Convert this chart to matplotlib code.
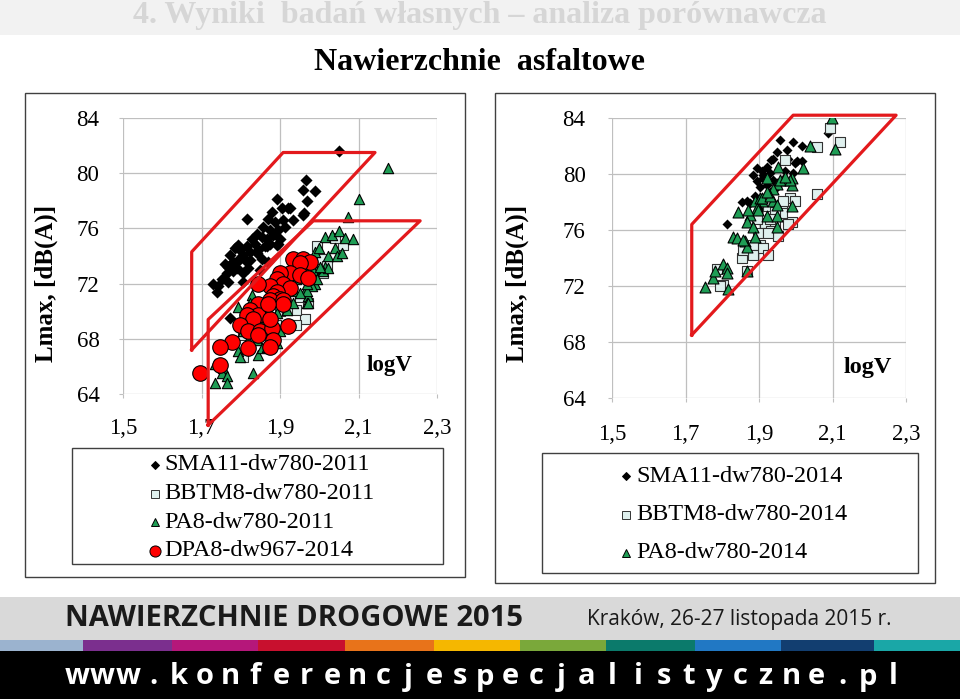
import matplotlib
matplotlib.use("Agg")
import matplotlib.pyplot as plt
import numpy as np
from matplotlib.patches import Rectangle
from matplotlib.lines import Line2D

W, H = 960, 699

# ---- data ----
x_ticks = [1.5, 1.7, 1.9, 2.1, 2.3]
x_tick_labels = ["1,5", "1,7", "1,9", "2,1", "2,3"]
y_ticks = [64, 68, 72, 76, 80, 84]

left_labels = ["SMA11-dw780-2011", "BBTM8-dw780-2011", "PA8-dw780-2011", "DPA8-dw967-2014"]
right_labels = ["SMA11-dw780-2014", "BBTM8-dw780-2014", "PA8-dw780-2014"]

# left chart (2011 / 2014 DPA)
sma11_x = [2.050, 1.966, 1.959, 1.989, 1.893, 1.815, 1.904, 1.921, 1.959, 1.879, 1.870, 1.887,
           1.908, 1.934, 1.857, 1.875, 1.896, 1.913, 1.841, 1.853, 1.866, 1.883, 1.900, 1.828,
           1.815, 1.836, 1.798, 1.807, 1.785, 1.824, 1.845, 1.862, 1.875, 1.896, 1.781, 1.768,
           1.794, 1.815, 1.853, 1.870, 1.794, 1.773, 1.798, 1.824, 1.760, 1.777, 1.790, 1.764,
           1.781, 1.807, 1.819, 1.751, 1.730, 1.743, 1.768, 1.807, 1.739, 1.773, 1.892, 1.866,
           1.841, 1.961, 1.925, 1.849, 1.968]
sma11_y = [81.6, 79.5, 78.8, 78.7, 78.1, 76.7, 77.5, 77.5, 77.0, 77.2, 76.7, 76.5,
           76.6, 76.6, 76.1, 75.9, 75.9, 76.1, 75.6, 75.4, 75.2, 75.5, 75.2, 75.2,
           74.7, 74.9, 74.4, 74.1, 74.6, 74.3, 74.4, 74.7, 74.9, 74.9, 73.6, 73.2,
           73.7, 73.6, 73.8, 73.6, 74.8, 74.1, 73.8, 73.7, 73.4, 73.5, 73.1, 72.8,
           72.9, 72.8, 73.1, 72.3, 72.0, 71.8, 72.1, 72.1, 71.4, 69.5, 74.8, 74.7,
           74.2, 77.1, 77.5, 73.0, 78.0]

bbtm11_x = [1.993, 2.006, 2.061, 2.010, 1.972, 1.964, 1.942, 1.942, 1.900, 1.807, 1.806,
            1.917, 1.880, 1.860, 2.040, 1.980, 2.020, 1.950, 1.890]
bbtm11_y = [74.7, 73.8, 74.8, 72.8, 70.6, 69.4, 69.0, 70.1, 70.0, 68.3, 66.7,
            70.1, 68.0, 69.2, 75.3, 72.0, 73.3, 71.0, 69.0]

pa11_x = [2.176, 2.101, 2.072, 2.015, 2.032, 2.051, 2.066, 2.087, 2.040, 2.023, 2.044, 2.057,
          2.015, 2.010, 2.023, 1.989, 1.968, 1.989, 1.981, 1.964, 1.972, 1.968, 1.828, 1.824,
          1.794, 1.857, 1.841, 1.819, 1.794, 1.798, 1.845, 1.734, 1.756, 1.751, 1.764, 1.734,
          1.764, 1.832, 1.853, 1.866, 1.892, 1.917, 1.934, 1.968, 1.972, 1.951, 1.892, 1.917,
          1.942, 1.985, 2.002, 1.993, 1.968, 1.934, 1.866, 1.883, 1.900, 1.807, 1.880, 1.900,
          1.920, 1.950, 1.960, 1.930, 1.990, 2.000]
pa11_y = [80.4, 78.1, 76.8, 75.4, 75.5, 75.8, 75.3, 75.2, 74.6, 74.0, 74.0, 74.2,
          73.2, 72.9, 73.1, 73.1, 72.5, 72.0, 71.8, 71.5, 71.1, 70.6, 71.2, 70.6,
          70.3, 69.0, 67.9, 67.9, 67.1, 66.7, 66.8, 66.2, 65.9, 65.5, 65.3, 64.8,
          64.8, 65.5, 67.3, 67.4, 67.7, 70.1, 71.5, 71.5, 70.6, 71.3, 69.9, 72.3,
          72.3, 73.0, 73.2, 72.3, 72.0, 70.6, 70.3, 68.4, 68.6, 68.6, 71.0, 70.8,
          71.8, 72.6, 73.2, 73.5, 74.3, 74.6]

dpa14_x = [1.934, 1.959, 1.976, 1.951, 1.925, 1.951, 1.972, 1.900, 1.892, 1.908, 1.875, 1.925,
           1.892, 1.883, 1.900, 1.875, 1.908, 1.845, 1.845, 1.824, 1.845, 1.815, 1.832, 1.798,
           1.819, 1.849, 1.879, 1.875, 1.883, 1.875, 1.845, 1.819, 1.777, 1.747, 1.747, 1.696,
           1.921, 1.908, 1.870]
dpa14_y = [73.8, 73.8, 73.6, 73.5, 72.8, 72.6, 72.4, 72.8, 72.3, 72.0, 71.8, 71.7,
           71.4, 71.1, 70.9, 70.8, 70.8, 72.0, 70.5, 70.1, 69.7, 69.7, 69.4, 69.0,
           68.6, 68.6, 68.8, 69.4, 67.9, 67.4, 68.3, 67.3, 67.8, 67.4, 66.1, 65.5,
           68.9, 70.5, 70.5]

# right chart (2014)
sma14_x = [1.957, 1.993, 2.016, 1.975, 1.948, 1.939, 1.980, 2.003, 1.894, 1.907, 1.921, 1.930,
           1.912, 1.939, 1.894, 1.921, 1.948, 1.884, 1.903, 1.867, 1.876, 1.853, 1.889, 1.930,
           1.903, 1.812, 1.916, 2.089, 1.998, 2.016, 1.993, 1.971, 1.934, 1.910, 1.925]
sma14_y = [82.4, 82.3, 82.0, 81.7, 81.6, 81.1, 81.1, 80.9, 80.4, 80.2, 80.5, 80.1,
           79.7, 79.6, 79.5, 79.2, 79.1, 79.9, 79.1, 78.1, 77.9, 78.0, 78.4, 78.7,
           77.4, 76.4, 77.8, 82.9, 80.8, 80.9, 80.1, 80.2, 81.0, 79.9, 79.4]

bbtm14_x = [2.093, 2.120, 2.057, 1.971, 2.057, 1.984, 1.998, 1.962, 1.962, 1.989, 1.980, 1.944,
            1.916, 1.934, 1.953, 1.925, 1.944, 1.894, 1.903, 1.912, 1.884, 1.862, 1.853, 1.884,
            1.925, 1.857, 1.785, 1.803, 1.794, 1.867, 1.898, 1.925, 1.930, 1.966]
bbtm14_y = [83.3, 82.3, 81.9, 81.0, 78.6, 78.3, 78.1, 77.6, 77.2, 76.6, 76.4, 76.5,
            76.5, 75.9, 75.6, 77.7, 77.3, 76.8, 74.9, 74.7, 74.9, 74.5, 74.0, 74.2,
            74.2, 74.6, 73.2, 72.1, 72.0, 73.1, 75.8, 75.8, 76.8, 78.1]

pa14_x = [2.098, 2.039, 2.107, 2.021, 1.953, 1.989, 1.966, 1.948, 1.989, 1.989, 1.939, 1.939,
          1.907, 1.889, 1.894, 1.876, 1.844, 1.867, 1.885, 1.830, 1.839, 1.862, 1.867, 1.889,
          1.948, 1.948, 1.803, 1.812, 1.812, 1.776, 1.753, 1.817, 1.867, 1.921, 1.903, 1.921,
          1.871, 1.898, 1.907, 1.930, 1.948, 1.957, 1.984, 1.971, 1.921, 1.857, 1.780]
pa14_y = [84.0, 82.0, 81.8, 80.4, 80.5, 79.7, 79.6, 79.3, 79.2, 77.7, 78.9, 78.1,
          78.1, 78.1, 77.6, 77.1, 77.3, 76.6, 76.2, 75.5, 75.4, 75.2, 74.8, 75.5,
          77.0, 76.2, 73.6, 73.3, 72.9, 72.6, 71.9, 71.8, 73.1, 79.7, 78.3, 77.0,
          77.4, 77.4, 78.3, 78.4, 77.8, 79.6, 79.6, 79.8, 78.7, 75.3, 73.1]

# envelope polygons (logV, Lmax)
left_poly1 = [(1.675, 67.2), (1.675, 74.3), (1.908, 81.5), (2.142, 81.5)]
left_poly2 = [(1.717, 61.75), (1.717, 69.4), (1.985, 76.55), (2.257, 76.55)]
right_poly = [(1.717, 68.5), (1.717, 76.4), (1.993, 84.2), (2.273, 84.2)]

# ---- styles ----
serif = "Liberation Serif"
red = "#e3191c"
green = "#1f9d55"
mint = "#dff0ee"


def fx(x):
    return x / W


def fy(y):
    return 1 - y / H


def rect(x0, y0, x1, y1, **kw):
    fig.add_artist(Rectangle((fx(x0), fy(y1)), fx(x1) - fx(x0), fy(y0) - fy(y1),
                             transform=fig.transFigure, **kw))


fig = plt.figure(figsize=(W / 100, H / 100), dpi=100)

# header band
rect(0, 0, W, 35, facecolor="#f2f2f2", edgecolor="none")
fig.text(0.5, fy(15), "4. Wyniki  badań własnych – analiza porównawcza", ha="center", va="center",
         fontsize=23, fontweight="bold", family=serif, color="#d6d6d6")
fig.text(0.5, fy(63), "Nawierzchnie  asfaltowe", ha="center", va="center",
         fontsize=23, fontweight="bold", family=serif, color="black")

# chart frames
rect(25, 93, 465, 577, facecolor="none", edgecolor="#404040", lw=1)
rect(495, 93, 935, 583, facecolor="none", edgecolor="#404040", lw=1)


def setup(ax, pad_y):
    ax.set_xlim(1.5, 2.3)
    ax.set_ylim(64, 84)
    ax.set_xticks(x_ticks)
    ax.set_xticklabels(x_tick_labels)
    ax.set_yticks(y_ticks)
    ax.grid(True, color="#bfbfbf", lw=0.9)
    ax.set_axisbelow(True)
    for s in ax.spines.values():
        s.set_visible(False)
    ax.tick_params(length=3, color="#bfbfbf", labelsize=16.5, pad=pad_y)
    for t in ax.get_xticklabels() + ax.get_yticklabels():
        t.set_family(serif)


axL = fig.add_axes([fx(123), fy(394), fx(437) - fx(123), fy(118) - fy(394)])
setup(axL, 14)
axL.scatter(sma11_x, sma11_y, marker="D", s=38, c="black", lw=0, zorder=3)
axL.scatter(bbtm11_x, bbtm11_y, marker="s", s=42, c=mint, edgecolors="#333333", lw=0.8, zorder=3)
axL.scatter(pa11_x, pa11_y, marker="^", s=55, c=green, edgecolors="black", lw=0.8, zorder=4)
axL.scatter(dpa14_x, dpa14_y, marker="o", s=125, c="#ff0000", edgecolors="black", lw=0.8, zorder=5)
for poly in (left_poly1, left_poly2):
    px, py = zip(*(poly + [poly[0]]))
    axL.plot(px, py, color=red, lw=2.3, zorder=6, clip_on=False)
axL.text(2.18, 66.1, "logV", ha="center", va="center", fontsize=16.5, fontweight="bold", family=serif)
fig.text(fx(46), fy(283), "Lmax, [dB(A)]", rotation=90, ha="center", va="center",
         fontsize=18, fontweight="bold", family=serif)

axR = fig.add_axes([fx(612), fy(398), fx(906) - fx(612), fy(118) - fy(398)])
setup(axR, 16)
axR.scatter(sma14_x, sma14_y, marker="D", s=26, c="black", lw=0, zorder=3)
axR.scatter(bbtm14_x, bbtm14_y, marker="s", s=50, c=mint, edgecolors="#333333", lw=0.8, zorder=4)
axR.scatter(pa14_x, pa14_y, marker="^", s=62, c=green, edgecolors="black", lw=0.8, zorder=5)
px, py = zip(*(right_poly + [right_poly[0]]))
axR.plot(px, py, color=red, lw=2.3, zorder=6, clip_on=False)
axR.text(2.197, 66.2, "logV", ha="center", va="center", fontsize=17.5, fontweight="bold", family=serif)
fig.text(fx(517), fy(283), "Lmax, [dB(A)]", rotation=90, ha="center", va="center",
         fontsize=18, fontweight="bold", family=serif)

# legends
left_styles = [dict(marker="D", ms=4.5, mfc="black", mec="black"),
               dict(marker="s", ms=5.5, mfc=mint, mec="#333333"),
               dict(marker="^", ms=6, mfc=green, mec="black"),
               dict(marker="o", ms=8, mfc="#ff0000", mec="black")]
rect(72, 448, 443, 564, facecolor="none", edgecolor="#404040", lw=1)
for i, (lab, st) in enumerate(zip(left_labels, left_styles)):
    yy = 465 + i * 28.5
    fig.add_artist(Line2D([fx(155)], [fy(yy)], transform=fig.transFigure, lw=0, mew=0.7, **st))
    fig.text(fx(164), fy(yy), lab, ha="left", va="center", fontsize=17.5, family=serif)

rect(542, 453, 918, 573, facecolor="none", edgecolor="#404040", lw=1)
for i, (lab, st) in enumerate(zip(right_labels, left_styles[:3])):
    yy = 476 + i * 38.5
    fig.add_artist(Line2D([fx(626)], [fy(yy)], transform=fig.transFigure, lw=0, mew=0.7, **st))
    fig.text(fx(636), fy(yy), lab, ha="left", va="center", fontsize=17.5, family=serif)

# footer
rect(0, 597, W, 640, facecolor="#d9d9d9", edgecolor="none")
strip_colors = ["#9bb3cf", "#7b2f8e", "#b5177a", "#c8102e", "#e8731a", "#f5b700",
                "#7aa83a", "#0b7a6b", "#2178c4", "#123e70", "#1aa7a7"]
strip_edges = [0, 83, 172, 258, 345, 434, 520, 606, 695, 781, 874, 960]
for c, a, b in zip(strip_colors, strip_edges[:-1], strip_edges[1:]):
    rect(a, 640, b, 651, facecolor=c, edgecolor="none")
rect(0, 651, W, H, facecolor="black", edgecolor="none")
fig.text(fx(65), fy(618), "NAWIERZCHNIE DROGOWE 2015", ha="left", va="center",
         fontsize=21, fontweight="bold", family="Open Sans", color="#1a1a1a")
fig.text(fx(587), fy(620), "Kraków, 26-27 listopada 2015 r.", ha="left", va="center",
         fontsize=15, family="Open Sans", color="#1a1a1a")
url = "www.konferencjespecjalistyczne.pl"
for ch, xx in zip(url, np.linspace(77, 893, len(url))):
    fig.text(fx(xx), fy(677), ch, ha="center", va="center", fontsize=21,
             fontweight="bold", family="Open Sans", color="white")

fig.savefig("out.png", dpi=100)
